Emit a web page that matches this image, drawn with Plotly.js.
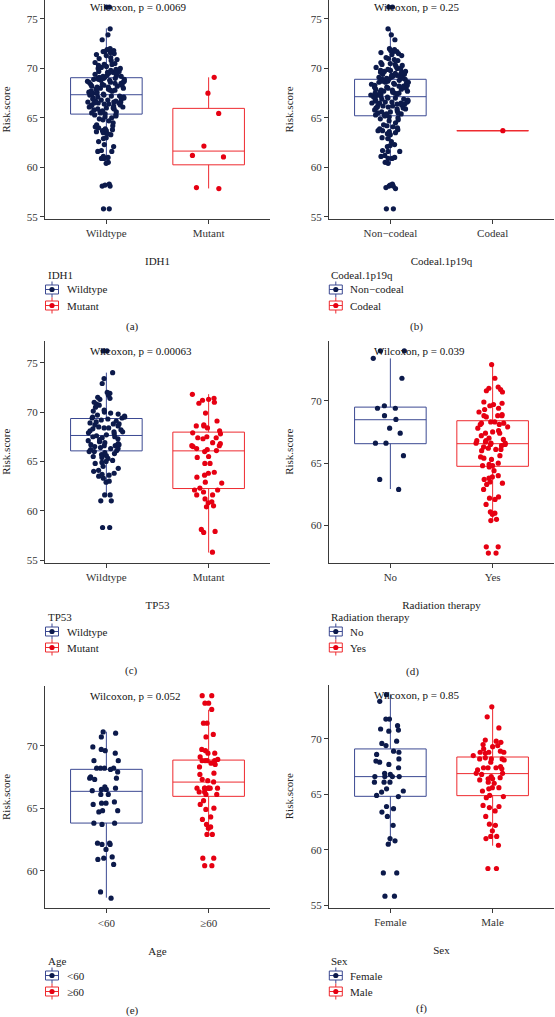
<!DOCTYPE html>
<html><head><meta charset="utf-8">
<script src="https://cdn.plot.ly/plotly-3.0.1.min.js"></script>
<style>html,body{margin:0;padding:0;background:#fff}</style>
</head><body><div id="chart" style="width:555px;height:1017px"></div>
<script>
// ---------------- DATA ----------------
const panelVars = ['IDH1', 'Codeal.1p19q', 'TP53', 'Radiation therapy', 'Age', 'Sex'];
const groupLabels = [['Wildtype', 'Mutant'], ['Non\u2212codeal', 'Codeal'], ['Wildtype', 'Mutant'], ['No', 'Yes'], ['<60', '\u226560'], ['Female', 'Male']];
const pValues = ['0.0069', '0.25', '0.00063', '0.039', '0.052', '0.85'];
const captions = ['(a)', '(b)', '(c)', '(d)', '(e)', '(f)'];

// box statistics (panel a group1, a group2, b1, b2, ...)
const boxQ1     = [65.38, 60.25, 65.21, 63.7, 66.07, 62.25, 66.56, 64.75, 63.81, 65.95, 64.82, 64.88];
const boxMedian = [67.34, 61.64, 67.14, 63.7, 67.63, 66.07, 68.48, 66.56, 66.35, 67.09, 66.60, 66.87];
const boxQ3     = [69.06, 65.96, 68.90, 63.7, 69.35, 67.97, 69.49, 68.40, 68.11, 68.85, 69.10, 68.37];
const boxLower  = [60.39, 57.86, 60.40, 63.7, 61.58, 55.76, 62.93, 60.37, 57.84, 62.93, 60.54, 60.36];
const boxUpper  = [74.05, 69.10, 74.00, 63.7, 74.00, 71.82, 73.39, 72.93, 71.12, 72.88, 74.04, 72.92];

const idh1Wildtype = [76.2, 76.2, 74.0, 73.4, 72.9,
  72.0, 71.9, 71.8, 71.7, 71.7, 71.6, 71.5, 71.4, 71.3, 71.1, 71.0, 70.9, 70.8, 70.6,
  70.5, 70.4, 70.4, 70.3, 70.2, 70.1, 70.0, 70.0,
  69.9, 69.8, 69.8, 69.7, 69.7, 69.6, 69.6, 69.5, 69.5, 69.4, 69.4, 69.3, 69.3, 69.2, 69.2, 69.1, 69.1, 69.0, 69.0, 69.0,
  68.9, 68.9, 68.9, 68.8, 68.8, 68.7, 68.7, 68.6, 68.6, 68.6, 68.5, 68.5, 68.4, 68.4, 68.3, 68.3, 68.2, 68.2, 68.1, 68.1, 68.0, 68.0,
  67.9, 67.9, 67.8, 67.8, 67.7, 67.7, 67.6, 67.6, 67.5, 67.5, 67.4, 67.4, 67.3, 67.3, 67.2, 67.2, 67.1, 67.1, 67.0, 67.0,
  66.9, 66.9, 66.8, 66.8, 66.7, 66.7, 66.6, 66.6, 66.6, 66.5, 66.5, 66.5, 66.4, 66.4, 66.3, 66.3, 66.2, 66.2, 66.1, 66.1, 66.0, 66.0,
  65.9, 65.9, 65.8, 65.7, 65.6, 65.6, 65.5, 65.5, 65.4, 65.3, 65.3, 65.2, 65.1, 65.0,
  64.9, 64.8, 64.7, 64.5, 64.3, 64.2, 64.1, 64.0,
  63.9, 63.8, 63.7, 63.7, 63.6, 63.5, 63.4, 63.3, 63.0,
  62.9, 62.6, 62.3, 62.1,
  61.7, 61.6, 61.6, 61.1, 61.0,
  60.9, 60.9, 60.5, 60.4,
  58.3, 58.2, 58.1, 58.1,
  55.8, 55.8];
const idh1Mutant = [69.1, 67.5, 65.45, 62.15, 61.2, 61.05, 57.95, 57.85];

const codealNon = [76.2, 76.2, 74.0, 73.4, 72.9,
  72.0, 71.9, 71.8, 71.7, 71.7, 71.6, 71.5, 71.4, 71.3, 71.1, 71.0, 70.9, 70.8, 70.6,
  70.5, 70.4, 70.4, 70.3, 70.2, 70.1, 70.0, 70.0,
  69.9, 69.8, 69.8, 69.7, 69.7, 69.6, 69.6, 69.5, 69.5, 69.4, 69.4, 69.3, 69.3, 69.2, 69.2, 69.1, 69.1, 69.1, 69.0, 69.0,
  68.9, 68.9, 68.9, 68.8, 68.8, 68.7, 68.7, 68.6, 68.6, 68.6, 68.5, 68.5, 68.4, 68.4, 68.3, 68.3, 68.2, 68.2, 68.1, 68.1, 68.0, 68.0,
  67.9, 67.9, 67.8, 67.8, 67.7, 67.7, 67.6, 67.6, 67.5, 67.5, 67.5, 67.4, 67.4, 67.3, 67.3, 67.2, 67.2, 67.1, 67.1, 67.0, 67.0,
  66.9, 66.9, 66.8, 66.8, 66.7, 66.7, 66.6, 66.6, 66.6, 66.5, 66.5, 66.5, 66.4, 66.4, 66.3, 66.3, 66.2, 66.2, 66.1, 66.1, 66.0, 66.0,
  65.9, 65.9, 65.8, 65.7, 65.6, 65.6, 65.5, 65.5, 65.4, 65.4, 65.3, 65.3, 65.2, 65.1, 65.0,
  64.9, 64.8, 64.7, 64.5, 64.3, 64.2, 64.1, 64.0,
  63.9, 63.8, 63.7, 63.7, 63.6, 63.5, 63.4, 63.3, 63.0,
  62.9, 62.6, 62.3, 62.2, 62.1,
  61.7, 61.6, 61.6, 61.2, 61.1, 61.0,
  60.9, 60.9, 60.5, 60.4,
  58.3, 58.2, 58.1, 58.1, 57.95, 57.85,
  55.8, 55.8];
const codealYes = [63.7];

const tp53Wildtype = [76.2, 76.2, 74.0, 73.4, 72.9, 72.0, 71.9, 71.7, 71.5, 71.4, 71.3, 71.0, 70.8, 70.7, 70.5,
  70.2, 70.1, 70.0, 69.9, 69.8, 69.7, 69.6, 69.5, 69.5, 69.4, 69.4, 69.3, 69.2, 69.1, 69.0,
  68.9, 68.8, 68.8, 68.7, 68.6, 68.5, 68.4, 68.4, 68.3, 68.2, 68.1, 68.0, 68.0,
  67.9, 67.8, 67.7, 67.6, 67.5, 67.5, 67.4, 67.3, 67.2, 67.1, 67.0,
  66.9, 66.8, 66.7, 66.7, 66.6, 66.6, 66.5, 66.4, 66.3, 66.3, 66.2, 66.1, 66.0, 66.0,
  65.9, 65.8, 65.7, 65.6, 65.5, 65.4, 65.3, 65.1, 65.0,
  64.9, 64.8, 64.5, 64.3, 64.1, 64.0,
  63.8, 63.7, 63.6, 63.5, 63.3, 63.0, 62.9,
  61.6, 61.6, 61.0, 61.0,
  58.3, 58.3];
const tp53Mutant = [71.8, 71.4, 71.3, 71.2, 71.0, 70.9, 69.9, 69.1, 68.7, 68.6, 68.6, 68.4, 68.1, 67.9, 67.8,
  67.5, 67.4, 67.4, 67.3, 66.9, 66.8, 66.6, 66.6, 66.5, 66.3, 66.2, 66.1, 66.0, 65.5, 65.4,
  64.8, 64.8, 63.9, 63.8, 63.6, 63.4, 62.9, 62.8, 62.3, 62.1, 62.1, 61.9, 61.6, 61.6, 61.2,
  60.9, 60.8, 60.5, 60.4, 58.1, 57.9, 57.8, 55.8];

const radiationNo = [74.0, 74.0, 73.4, 71.8, 69.6, 69.4, 69.4, 68.8, 68.5, 67.8, 67.4, 66.6, 66.6, 65.6, 63.7, 62.9];
const radiationYes = [72.9, 71.8, 71.1, 71.0, 70.9, 70.8, 70.7, 69.9, 69.8, 69.7, 69.6, 69.4, 69.3, 69.1,
  68.9, 68.8, 68.8, 68.8, 68.7, 68.3, 68.3, 68.2, 68.2, 68.1, 68.1, 67.9, 67.8, 67.6, 67.5, 67.4, 67.4, 67.2, 67.0,
  66.9, 66.8, 66.8, 66.7, 66.6, 66.6, 66.6, 66.5, 66.5, 66.4, 66.3, 66.2, 66.1, 66.1, 66.0,
  65.6, 65.5, 65.4, 65.3, 65.0, 64.9, 64.8, 64.8, 64.7, 64.4, 64.0, 63.9, 63.8, 63.7, 63.5, 63.4, 63.3,
  62.9, 62.3, 62.2, 62.1, 61.7, 61.1, 61.0, 60.9, 60.5, 60.4, 58.3, 58.3, 57.8, 57.8];

const ageUnder60 = [71.1, 71.0, 70.7, 69.9, 69.7, 69.6, 69.4, 68.8, 68.8, 68.2, 68.2, 68.2, 68.2, 68.1, 67.9,
  67.5, 67.4, 67.4, 67.3, 66.7, 66.6, 66.5, 66.5, 66.4, 66.1, 66.1, 65.5, 65.4, 65.4, 65.3, 64.8, 64.8, 64.7,
  63.8, 63.8, 63.7, 62.2, 62.2, 62.1, 62.1, 61.7, 61.1, 61.0, 60.9, 60.5, 58.3, 57.8];
const ageOver60 = [74.0, 74.0, 73.4, 73.4, 72.9, 71.8, 71.8, 70.9, 70.7, 69.7, 69.6, 69.4, 69.4, 69.1, 68.9,
  68.8, 68.8, 68.8, 68.8, 68.6, 68.5, 68.3, 67.8, 67.7, 67.3, 67.2, 67.1, 66.6, 66.6, 66.6, 66.6, 66.6, 66.6, 66.6,
  66.3, 66.3, 66.1, 66.1, 65.6, 65.3, 65.0, 64.9, 64.3, 64.1, 63.7, 63.5, 63.4, 62.9, 62.9, 61.0, 61.0, 60.4, 60.4];

const sexFemale = [74.0, 73.4, 71.8, 71.8, 71.2, 70.9, 70.8, 70.7, 69.8, 69.6, 69.4, 68.9, 68.8, 68.6, 68.2,
  68.0, 67.9, 67.7, 67.4, 66.9, 66.8, 66.6, 66.6, 66.6, 66.6, 66.1, 66.1, 66.1, 65.5, 65.3, 65.2, 64.9, 64.8,
  63.9, 63.7, 63.4, 63.0, 62.2, 61.0, 60.8, 60.5, 57.9, 57.9, 55.8, 55.8];
const sexMale = [72.9, 72.0, 71.0, 69.9, 69.8, 69.7, 69.5, 69.4, 69.3, 69.1, 68.9, 68.8, 68.8, 68.8, 68.7,
  68.5, 68.3, 68.2, 68.2, 68.2, 68.1, 67.9, 67.5, 67.4, 67.4, 67.4, 67.3, 67.2, 66.9, 66.9, 66.8, 66.6, 66.5,
  66.4, 66.4, 66.3, 66.1, 66.0, 65.6, 65.6, 65.5, 65.3, 64.9, 64.8, 64.7, 64.0, 63.9, 63.8, 63.5, 63.0,
  62.3, 62.2, 61.7, 61.2, 61.2, 61.0, 60.4, 58.3, 58.3];

const panelSamples = [[idh1Wildtype, idh1Mutant], [codealNon, codealYes], [tp53Wildtype, tp53Mutant],
  [radiationNo, radiationYes], [ageUnder60, ageOver60], [sexFemale, sexMale]];
const yTicks = [[55, 60, 65, 70, 75], [55, 60, 65, 70, 75], [55, 60, 65, 70, 75], [60, 65, 70], [60, 65, 70], [55, 60, 65, 70]];

// ---------------- STYLE / LAYOUT GEOMETRY ----------------
const W = 555, H = 1017;
const FONT = 'Liberation Serif, Times New Roman, serif';
const pointColors = ['#0c1a4b', '#e60012'];
const boxColors = ['#3b4992', '#ee2a2f'];
const geom = [
  {x0: 45, x1: 270, top: 0, bottom: 219, yr: [54.77, 76.92]},
  {x0: 329, x1: 554, top: 0, bottom: 219, yr: [54.77, 76.92]},
  {x0: 45, x1: 270, top: 340.8, bottom: 562.7, yr: [54.73, 77.23]},
  {x0: 329, x1: 554, top: 340.8, bottom: 562.7, yr: [57.03, 74.80]},
  {x0: 45, x1: 270, top: 685.6, bottom: 908.3, yr: [56.99, 74.81]},
  {x0: 329, x1: 554, top: 684.6, bottom: 907.7, yr: [54.76, 74.91]}
];
// legend: [title left x, title centre y]
const legendPos = [[45.5, 275], [329.3, 275], [45.5, 617], [329.3, 617], [45.5, 961], [329.3, 961]];
const captionPos = [[132, 326.7], [416.7, 326.7], [131.7, 670], [412.7, 671.7], [132.5, 1010], [421.7, 1008.3]];

const px = v => v / W;
const py = v => 1 - v / H;

const traces = [];
const layout = {
  width: W, height: H, margin: {l: 0, r: 0, t: 0, b: 0},
  paper_bgcolor: '#fff', plot_bgcolor: 'rgba(0,0,0,0)',
  font: {family: FONT, size: 11, color: '#222'},
  boxmode: 'overlay', showlegend: false, annotations: [], shapes: []
};

for (let p = 0; p < 6; p++) {
  const s = p === 0 ? '' : String(p + 1);
  const xa = 'x' + s, ya = 'y' + s;
  const g = geom[p];
  for (let k = 0; k < 2; k++) {
    const idx = p * 2 + k;
    const label = groupLabels[p][k];
    // box from statistics
    traces.push({
      type: 'box', xaxis: xa, yaxis: ya, name: label,
      x: [label], q1: [boxQ1[idx]], median: [boxMedian[idx]], q3: [boxQ3[idx]],
      lowerfence: [boxLower[idx]], upperfence: [boxUpper[idx]],
      width: 0.7, whiskerwidth: 0, boxpoints: false,
      line: {color: boxColors[k], width: 1}, fillcolor: 'rgba(255,255,255,0)',
      hoverinfo: 'skip'
    });
    // jittered samples
    traces.push({
      type: 'box', xaxis: xa, yaxis: ya, name: label,
      y: panelSamples[p][k], width: 0.7, whiskerwidth: 0, boxpoints: 'all', jitter: 0.55, pointpos: 0,
      line: {color: 'rgba(0,0,0,0)', width: 0}, fillcolor: 'rgba(0,0,0,0)',
      marker: {color: pointColors[k], size: 5.2}
    });
  }
  const axisCommon = {
    showline: true, linecolor: '#3a3a3a', linewidth: 1, ticks: 'outside', ticklen: 4,
    tickcolor: '#3a3a3a', tickwidth: 1, showgrid: false, zeroline: false, automargin: false,
    tickfont: {family: FONT, size: 11, color: '#333'}, fixedrange: true
  };
  layout['xaxis' + s] = Object.assign({}, axisCommon, {
    anchor: ya, domain: [g.x0 / W, g.x1 / W], type: 'category',
    categoryorder: 'array', categoryarray: groupLabels[p], range: [-0.6, 1.6],
    title: {text: panelVars[p], font: {family: FONT, size: 11, color: '#222'}, standoff: 19}
  });
  layout['yaxis' + s] = Object.assign({}, axisCommon, {
    anchor: xa, domain: [1 - g.bottom / H, Math.min(1, 1 - g.top / H)], range: g.yr,
    tickmode: 'array', tickvals: yTicks[p],
    title: {text: 'Risk.score', font: {family: FONT, size: 11, color: '#222'}, standoff: 14}
  });

  const ymax = Math.max(...panelSamples[p][0], ...panelSamples[p][1]);
  layout.annotations.push({
    xref: xa + ' domain', yref: ya, x: 0.19, y: ymax, xanchor: 'left', yanchor: 'middle',
    text: 'Wilcoxon, p = ' + pValues[p], showarrow: false,
    font: {family: FONT, size: 11, color: '#111'}
  });
  layout.annotations.push({
    xref: 'paper', yref: 'paper', x: px(captionPos[p][0]), y: py(captionPos[p][1]),
    xanchor: 'center', yanchor: 'middle', text: captions[p], showarrow: false,
    font: {family: FONT, size: 11, color: '#222'}
  });

  // legend (title + two keys with box glyph and point)
  const lx = legendPos[p][0], ly = legendPos[p][1];
  layout.annotations.push({
    xref: 'paper', yref: 'paper', x: px(lx), y: py(ly), xanchor: 'left', yanchor: 'middle',
    text: panelVars[p], showarrow: false, font: {family: FONT, size: 11, color: '#222'}
  });
  for (let k = 0; k < 2; k++) {
    const cy = ly + 14.5 + k * 16;
    const cx = lx + 6.5;
    layout.shapes.push({type: 'line', xref: 'paper', yref: 'paper', x0: px(cx), x1: px(cx), y0: py(cy - 8), y1: py(cy + 8),
      line: {color: boxColors[k], width: 1}});
    layout.shapes.push({type: 'rect', xref: 'paper', yref: 'paper', x0: px(cx - 6.5), x1: px(cx + 6.5), y0: py(cy - 4.5), y1: py(cy + 4.5),
      line: {color: boxColors[k], width: 1}, fillcolor: '#fff'});
    layout.shapes.push({type: 'line', xref: 'paper', yref: 'paper', x0: px(cx - 6.5), x1: px(cx + 6.5), y0: py(cy), y1: py(cy),
      line: {color: boxColors[k], width: 1}});
    layout.shapes.push({type: 'circle', xref: 'paper', yref: 'paper', x0: px(cx - 2.6), x1: px(cx + 2.6), y0: py(cy - 2.6), y1: py(cy + 2.6),
      line: {width: 0}, fillcolor: pointColors[k]});
    layout.annotations.push({
      xref: 'paper', yref: 'paper', x: px(lx + 19), y: py(cy), xanchor: 'left', yanchor: 'middle',
      text: groupLabels[p][k], showarrow: false, font: {family: FONT, size: 11, color: '#222'}
    });
  }
}

Plotly.newPlot('chart', traces, layout, {staticPlot: true, displayModeBar: false});
</script>
</body></html>
